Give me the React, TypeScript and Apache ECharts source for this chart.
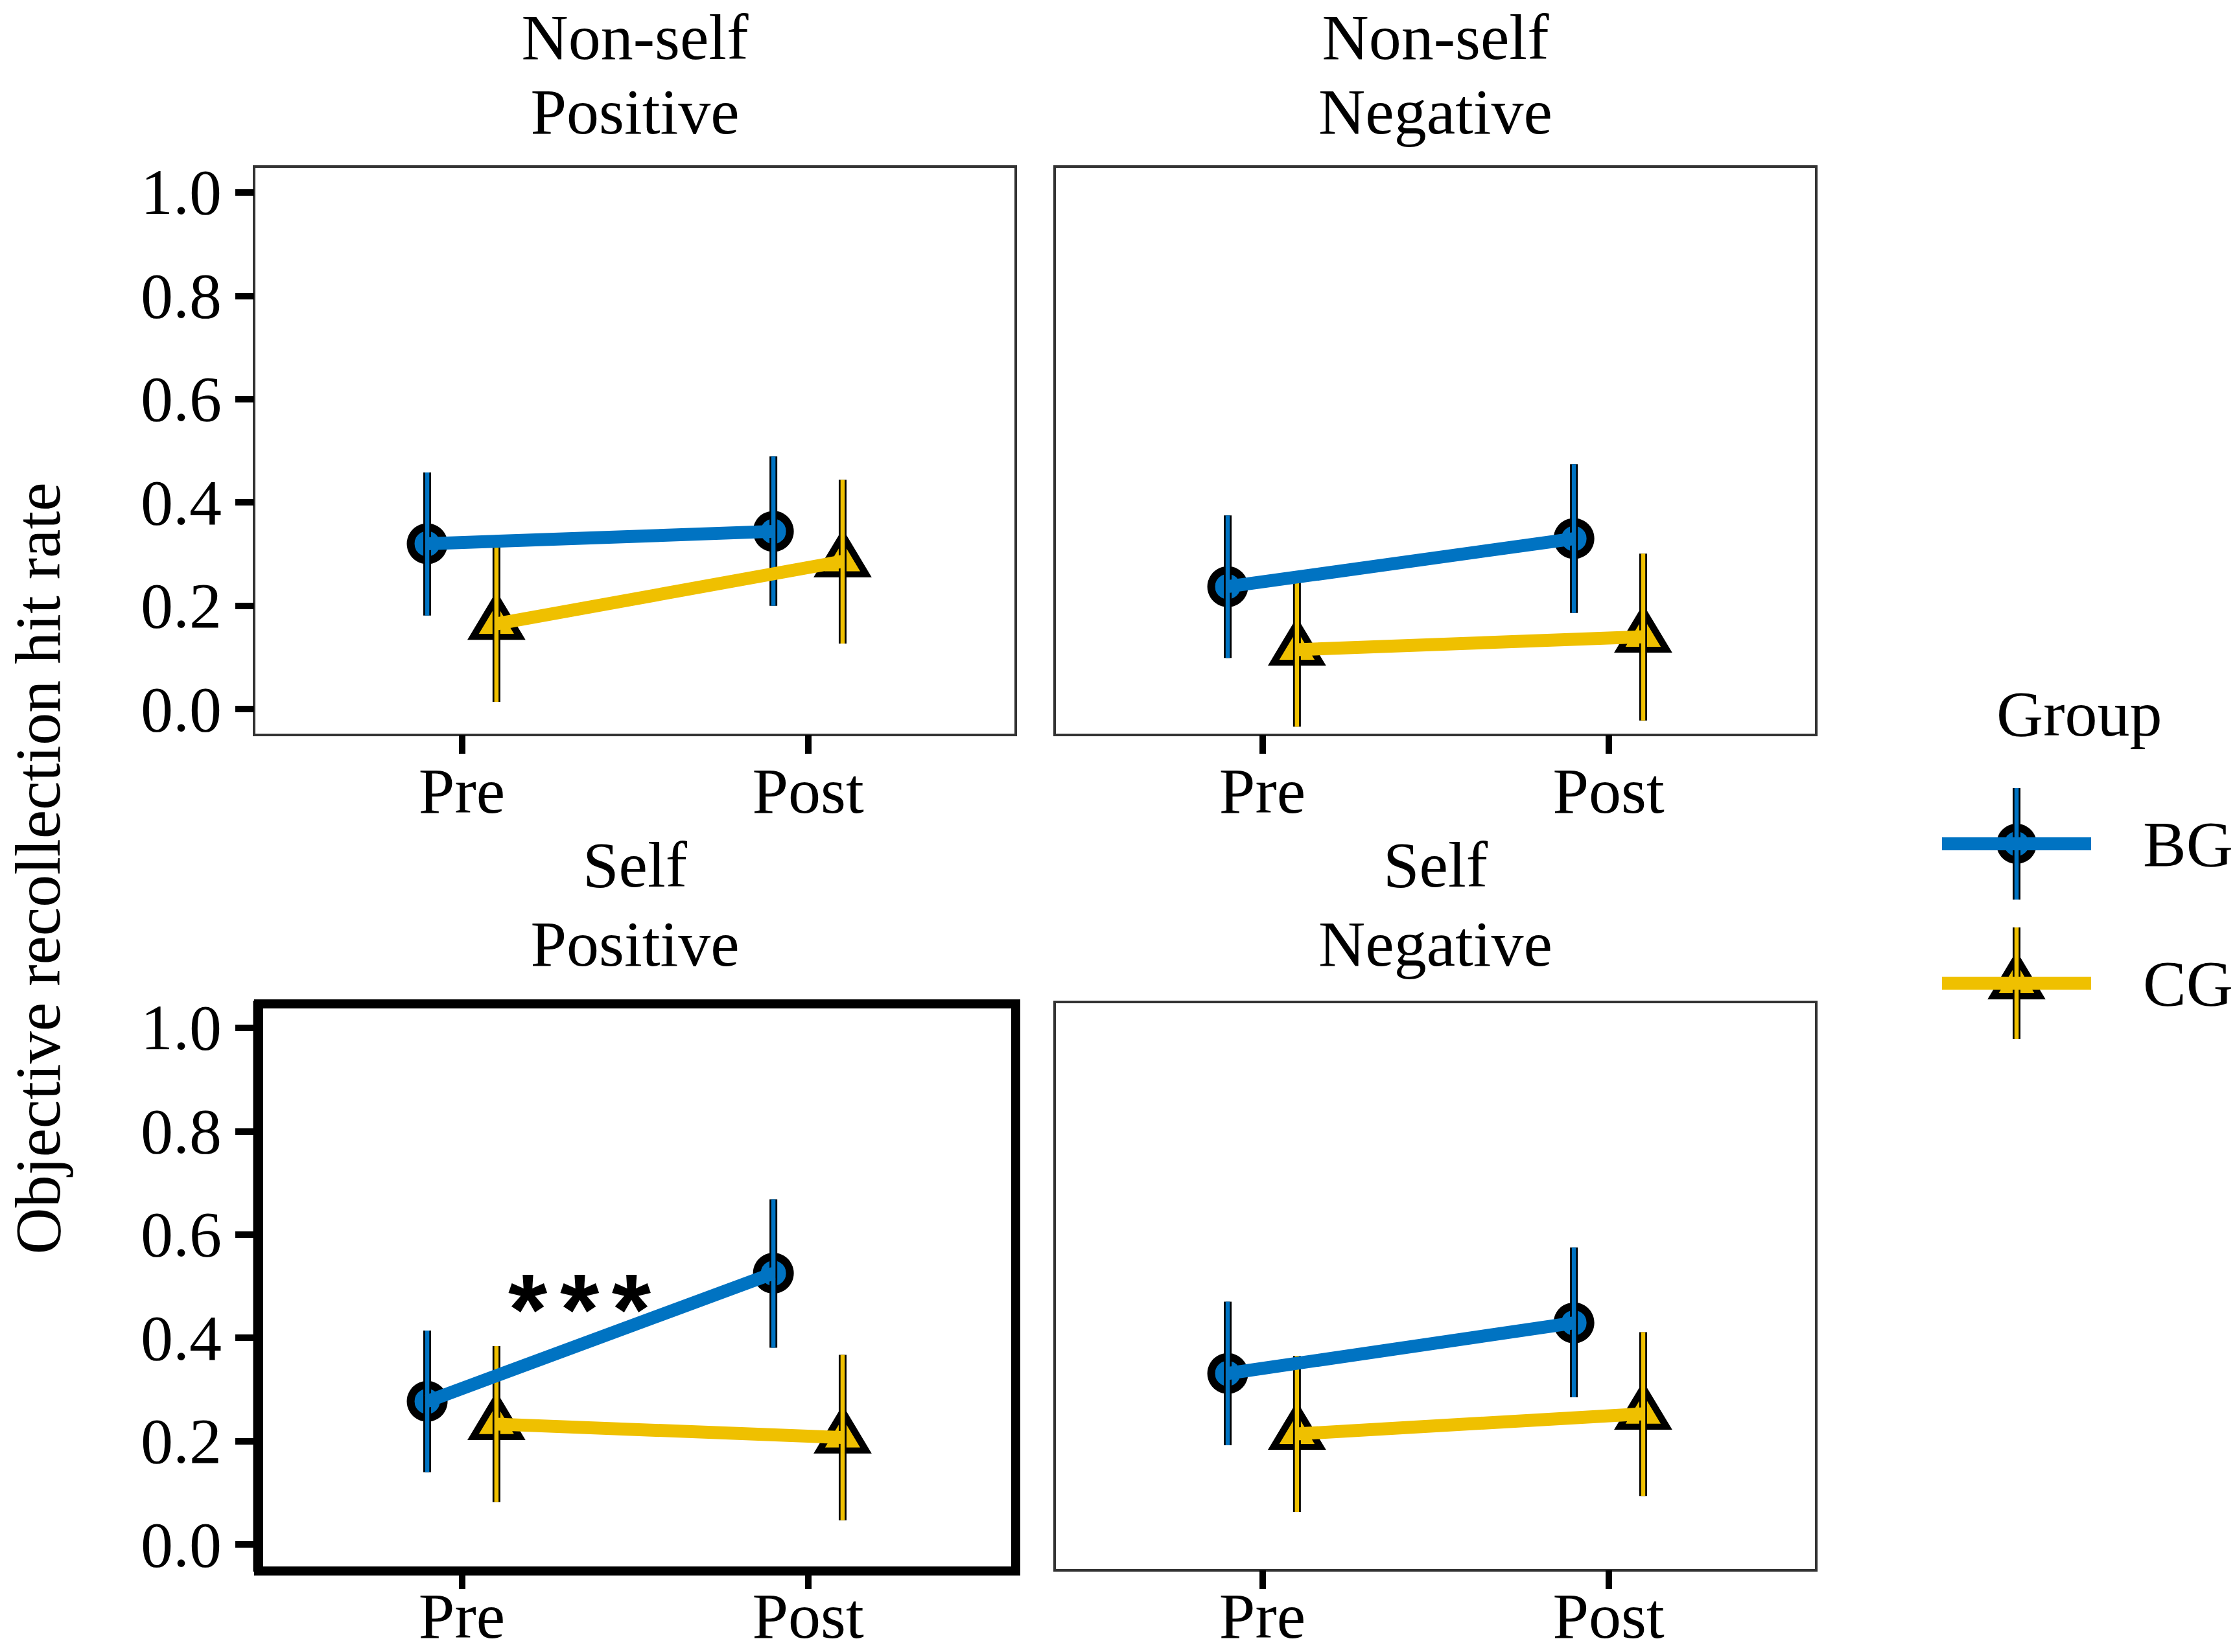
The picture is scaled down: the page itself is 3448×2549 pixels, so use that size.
import React, { useEffect, useRef } from "react";
import * as echarts from "echarts";

// ---------------- data ----------------
const conditions = ["Non-self\nPositive", "Non-self\nNegative", "Self\nPositive", "Self\nNegative"];
const timePoints = ["Pre", "Post"];
const groups = ["BG", "CG"];
const yTicks = [0, 0.2, 0.4, 0.6, 0.8, 1.0];

const bgMean = [[0.32, 0.344], [0.237, 0.33], [0.277, 0.525], [0.331, 0.429]];
const bgLower = [[0.181, 0.2], [0.099, 0.186], [0.14, 0.381], [0.192, 0.285]];
const bgUpper = [[0.458, 0.489], [0.375, 0.474], [0.414, 0.668], [0.47, 0.575]];

const cgMean = [[0.165, 0.286], [0.115, 0.14], [0.233, 0.207], [0.214, 0.253]];
const cgLower = [[0.014, 0.127], [-0.034, -0.022], [0.082, 0.047], [0.063, 0.094]];
const cgUpper = [[0.315, 0.444], [0.263, 0.301], [0.384, 0.367], [0.365, 0.411]];

// significance annotation: panel index, x (axis units), y, label
const sigPanel = [2];
const sigX = [1.34];
const sigY = [0.5];
const sigLabel = ["***"];

// ---------------- styles ----------------
const COLORS = ["#0073C2", "#EFC000"];
const DODGE = [-0.1, 0.1];
const FONT = "'Liberation Serif', 'Times New Roman', serif";
const FS = 100;
const W = 3448;
const H = 2549;

const PANELS = [
  { left: 392, top: 257, width: 1175, height: 877, labelMargin: 36 },
  { left: 1627, top: 257, width: 1175, height: 877, labelMargin: 36 },
  { left: 392, top: 1546, width: 1175, height: 877, labelMargin: 20 },
  { left: 1627, top: 1546, width: 1175, height: 877, labelMargin: 20 },
];

function buildOption() {
  const grids = PANELS.map((p) => ({
    left: p.left,
    top: p.top,
    width: p.width,
    height: p.height,
    show: true,
    borderColor: "#333333",
    borderWidth: 4,
    backgroundColor: "transparent",
    containLabel: false,
  }));

  const xAxes = PANELS.map((p, i) => ({
    type: "value",
    gridIndex: i,
    min: 0.4,
    max: 2.6,
    position: "bottom",
    axisLine: { show: false, onZero: false },
    splitLine: { show: false },
    axisTick: {
      show: true,
      inside: false,
      customValues: [1, 2],
      length: 29,
      lineStyle: { color: "#000", width: 10 },
    },
    axisLabel: {
      show: true,
      customValues: [1, 2],
      margin: p.labelMargin,
      fontSize: FS,
      fontFamily: FONT,
      color: "#000",
      formatter: (v: number) => timePoints[Math.round(v) - 1] ?? "",
    },
  }));

  const yAxes = PANELS.map((_, i) => {
    const showY = i % 2 === 0;
    return {
      type: "value",
      gridIndex: i,
      min: -0.05,
      max: 1.05,
      position: "left",
      axisLine: { show: false, onZero: false },
      splitLine: { show: false },
      axisTick: {
        show: showY,
        inside: false,
        customValues: yTicks,
        length: 29,
        lineStyle: { color: "#000", width: 10 },
      },
      axisLabel: {
        show: showY,
        customValues: yTicks,
        margin: 50,
        fontSize: FS,
        fontFamily: FONT,
        color: "#000",
        formatter: (v: number) => v.toFixed(1),
      },
    };
  });

  const series: any[] = [];
  PANELS.forEach((_, p) => {
    groups.forEach((gname, g) => {
      const mean = g === 0 ? bgMean[p] : cgMean[p];
      const lower = g === 0 ? bgLower[p] : cgLower[p];
      const upper = g === 0 ? bgUpper[p] : cgUpper[p];
      const xs = timePoints.map((_, t) => t + 1 + DODGE[g]);
      const color = COLORS[g];

      // points
      series.push({
        type: "scatter",
        name: gname,
        xAxisIndex: p,
        yAxisIndex: p,
        z: 2,
        symbol: g === 0 ? "circle" : "triangle",
        symbolSize: g === 0 ? 51 : [72, 60],
        symbolOffset: g === 0 ? [0, 0] : [0, -10],
        itemStyle: { color, borderColor: "#000", borderWidth: g === 0 ? 12 : 10, opacity: 1 },
        data: xs.map((x, t) => [x, mean[t]]),
        silent: true,
      });

      // error bars
      series.push({
        type: "custom",
        name: gname + " err",
        xAxisIndex: p,
        yAxisIndex: p,
        z: 3,
        silent: true,
        clip: false,
        encode: { x: 0, y: [1, 2] },
        data: xs.map((x, t) => [x, lower[t], upper[t]]),
        renderItem: (params: any, api: any) => {
          const a = api.coord([api.value(0), api.value(1)]);
          const b = api.coord([api.value(0), api.value(2)]);
          return {
            type: "group",
            children: [
              {
                type: "line",
                shape: { x1: a[0], y1: a[1], x2: b[0], y2: b[1] },
                style: { stroke: "#000", lineWidth: 12, lineCap: "butt" },
              },
              {
                type: "line",
                shape: { x1: a[0], y1: a[1], x2: b[0], y2: b[1] },
                style: { stroke: color, lineWidth: 6.5, lineCap: "butt" },
              },
            ],
          };
        },
      });

      // lines
      series.push({
        type: "line",
        name: gname + " line",
        xAxisIndex: p,
        yAxisIndex: p,
        z: 4,
        showSymbol: false,
        silent: true,
        lineStyle: { color, width: 20, cap: "butt" },
        data: xs.map((x, t) => [x, mean[t]]),
      });
    });
  });

  // significance annotation
  sigPanel.forEach((p, k) => {
    series.push({
      type: "custom",
      name: "sig",
      xAxisIndex: p,
      yAxisIndex: p,
      z: 6,
      silent: true,
      data: [[sigX[k], sigY[k]]],
      renderItem: (params: any, api: any) => {
        const c = api.coord([api.value(0), api.value(1)]);
        const stars = sigLabel[k].split("").map((ch) => "{a|" + ch + "}").join("{s| }");
        return {
          type: "text",
          x: c[0],
          y: c[1] + 36,
          style: {
            text: stars,
            fontSize: 155,
            fontWeight: "bold",
            fontFamily: "'Liberation Sans', Arial, sans-serif",
            fill: "#000",
            align: "center",
            verticalAlign: "middle",
            rich: {
              a: {
                fontSize: 155,
                fontWeight: "bold",
                fontFamily: "'Liberation Sans', Arial, sans-serif",
                fill: "#000",
                lineHeight: 120,
              },
              s: { fontSize: 70, lineHeight: 120 },
            },
          },
        };
      },
    });
  });

  const textStyle = (text: string, extra: any = {}) => ({
    text,
    fontSize: FS,
    fontFamily: FONT,
    fill: "#000",
    align: "center",
    verticalAlign: "middle",
    lineHeight: 80,
    ...extra,
  });

  const graphics: any[] = [];

  // strip titles (two lines each)
  PANELS.forEach((p, i) => {
    const lines = conditions[i].split("\n");
    const rows = i < 2 ? [57, 172] : [1334, 1456];
    lines.forEach((ln, j) => {
      graphics.push({
        type: "text",
        x: p.left + p.width / 2,
        y: rows[j],
        style: textStyle(ln),
      });
    });
  });

  // y axis title
  graphics.push({
    type: "text",
    x: 58,
    y: 1340,
    rotation: Math.PI / 2,
    style: textStyle("Objective recollection hit rate"),
  });

  // highlight frame around Self/Positive panel
  graphics.push({
    type: "rect",
    z: 100,
    shape: { x: 399, y: 1549, width: 1168, height: 875 },
    style: { fill: "none", stroke: "#000", lineWidth: 14 },
  });

  // legend
  const legX = 3111;
  const legRows = [1302, 1517];
  graphics.push({
    type: "text",
    x: 3080,
    y: 1101,
    style: textStyle("Group", { align: "left" }),
  });
  groups.forEach((gname, g) => {
    const y = legRows[g];
    const color = COLORS[g];
    if (g === 0) {
      graphics.push({
        type: "circle",
        z: 10,
        shape: { cx: legX, cy: y, r: 25 },
        style: { fill: color, stroke: "#000", lineWidth: 12 },
      });
    } else {
      graphics.push({
        type: "polygon",
        z: 10,
        shape: { points: [[legX, y - 40], [legX + 36, y + 20], [legX - 36, y + 20]] },
        style: { fill: color, stroke: "#000", lineWidth: 10 },
      });
    }
    graphics.push({
      type: "line",
      z: 11,
      shape: { x1: legX, y1: y - 86, x2: legX, y2: y + 86 },
      style: { stroke: "#000", lineWidth: 12 },
    });
    graphics.push({
      type: "line",
      z: 12,
      shape: { x1: legX, y1: y - 86, x2: legX, y2: y + 86 },
      style: { stroke: color, lineWidth: 6.5 },
    });
    graphics.push({
      type: "line",
      z: 13,
      shape: { x1: 2996, y1: y, x2: 3226, y2: y },
      style: { stroke: color, lineWidth: 20 },
    });
    graphics.push({
      type: "text",
      x: 3306,
      y,
      style: textStyle(gname, { align: "left" }),
    });
  });

  return {
    animation: false,
    backgroundColor: "#ffffff",
    grid: grids,
    xAxis: xAxes,
    yAxis: yAxes,
    series,
    graphic: graphics,
  };
}

export default function App() {
  const ref = useRef<HTMLDivElement>(null);
  useEffect(() => {
    if (!ref.current) return;
    const chart = echarts.init(ref.current, null, { renderer: "svg", width: W, height: H });
    chart.setOption(buildOption() as any);
    return () => chart.dispose();
  }, []);
  return (
    <div
      ref={ref}
      style={{ position: "absolute", left: 0, top: 0, width: W, height: H, background: "#fff" }}
    />
  );
}
